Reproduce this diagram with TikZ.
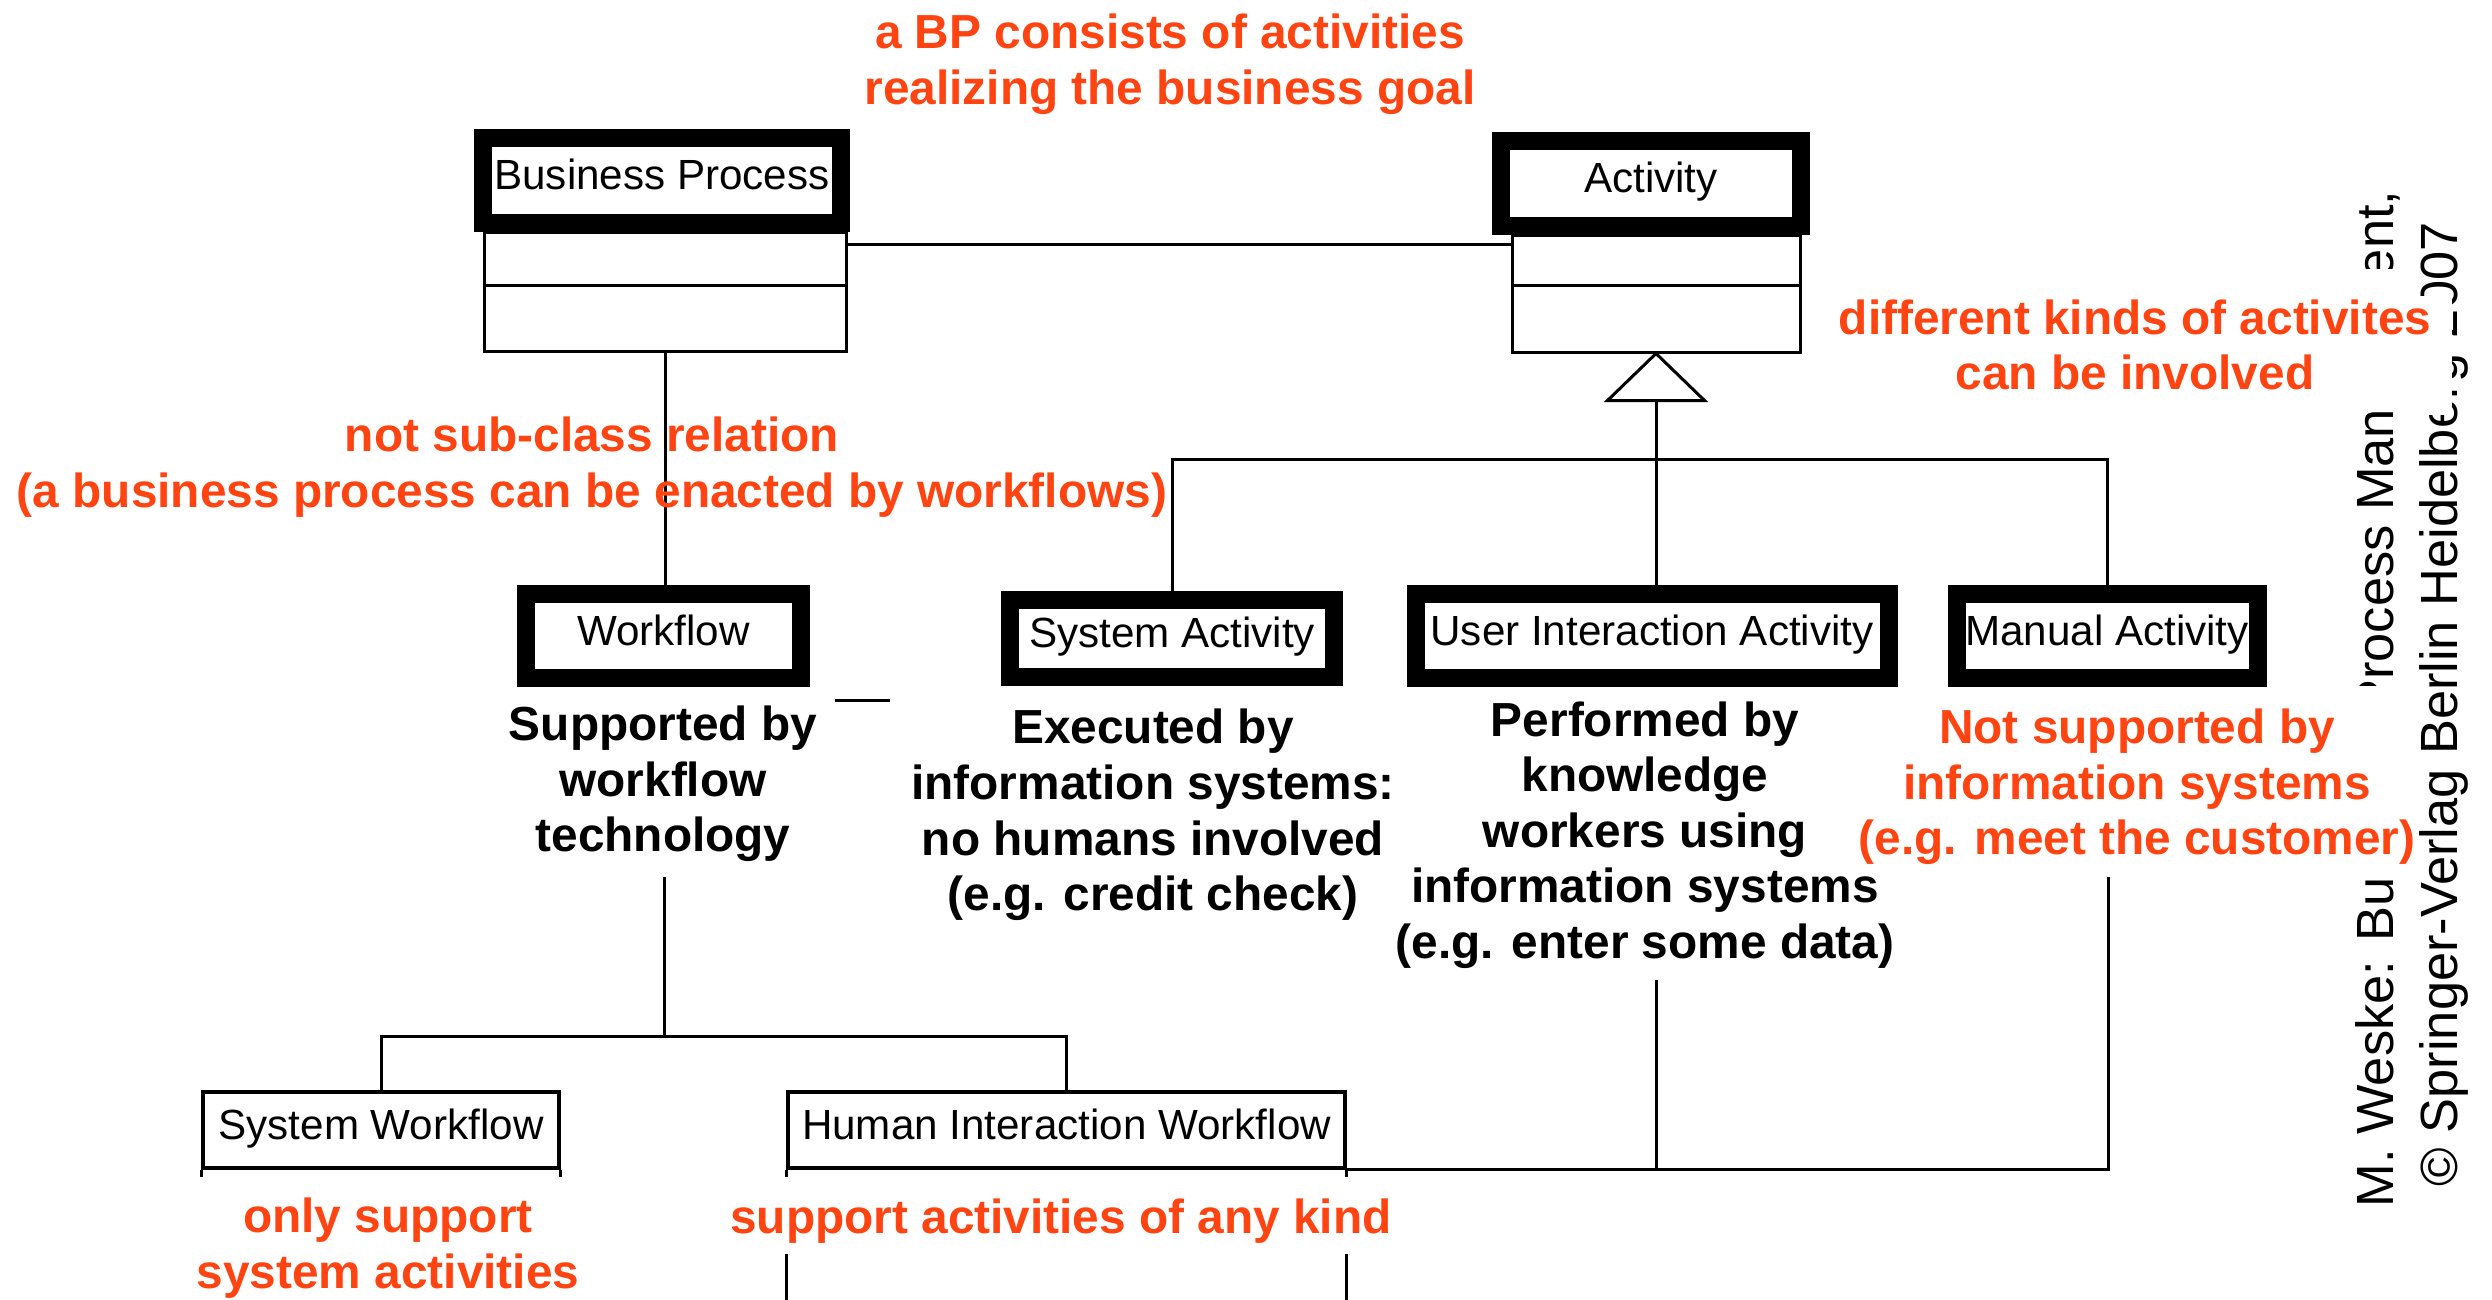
\documentclass[tikz,border=0pt]{standalone}
\usepackage{fontspec}
\setmainfont{Liberation Sans}
\usepackage{tikz}
\usetikzlibrary{positioning}
\definecolor{notered}{RGB}{255,68,18}

\begin{document}
\begin{tikzpicture}[
  head/.style={draw, line width=1.8mm, fill=white, inner sep=0pt, font=\fontsize{12}{14}\selectfont, text height=1.4ex, text depth=0.4ex},
  comp/.style={draw, line width=0.3mm, inner sep=0pt},
  cls/.style={draw, line width=0.35mm, inner sep=0pt, font=\fontsize{12}{14}\selectfont, text height=1.4ex, text depth=0.4ex},
  note/.style={align=center, font=\fontsize{13.6}{15.8}\selectfont\bfseries},
  rednote/.style={note, text=notered},
  link/.style={line width=0.3mm},
  credit/.style={rotate=90, anchor=base west, inner sep=0pt, font=\fontsize{14.9}{16}\selectfont}
]
\useasboundingbox (0,0) rectangle (24.92,-12.99);

\node[credit] (cr1) at (23.93,-12.08) {M. Weske: Business Process Management,};
\node[credit] (cr2) at (24.57,-11.87) {© Springer-Verlag Berlin Heidelberg 2007};
\fill[white] (23.40,-6.86) rectangle (24.08,-8.78);
\fill[white] (23.40,-2.685) rectangle (24.08,-4.09);
\fill[white] (24.12,-2.96) rectangle (24.52,-4.15);

\node[head, minimum width=3.575cm, minimum height=0.85cm] (bp) at (6.62,-1.805) {Business Process};
\node[comp, minimum width=3.62cm, minimum height=0.53cm] (bpa) at (6.65,-2.585) {};
\node[comp, minimum width=3.62cm, minimum height=0.66cm] (bpo) at (6.65,-3.18) {};
\node[head, minimum width=3.005cm, minimum height=0.85cm] (act) at (16.51,-1.835) {Activity};
\node[comp, minimum width=2.88cm, minimum height=0.50cm] (acta) at (16.56,-2.60) {};
\node[comp, minimum width=2.88cm, minimum height=0.67cm] (acto) at (16.56,-3.185) {};

\node[head, minimum width=2.75cm, minimum height=0.84cm] (wf) at (6.635,-6.36) {Workflow};
\node[head, minimum width=3.24cm, minimum height=0.77cm] (sa) at (11.72,-6.38) {System Activity};
\node[head, minimum width=4.73cm, minimum height=0.845cm] (uia) at (16.52,-6.36) {User Interaction Activity};
\node[head, minimum width=3.01cm, minimum height=0.845cm] (man) at (21.07,-6.36) {Manual Activity};

\node[cls, minimum width=3.56cm, minimum height=0.76cm] (sw) at (3.81,-11.30) {System Workflow};
\node[cls, minimum width=5.57cm, minimum height=0.76cm] (hiw) at (10.665,-11.30) {Human Interaction Workflow};

\draw[link] ([yshift=-1.4mm]bpa.north east) -- ([yshift=-1.1mm]acta.north west);
\draw[link] (bpo.south) -- (bpo.south |- wf.north);

\draw[link, fill=white] (acto.south) -- ++(-0.485,-0.47) -- ++(0.97,0) -- cycle;
\coordinate (gen) at (16.56,-4.59);
\draw[link] ([yshift=-4.7mm]acto.south) -- (gen);
\draw[link] (sa.north) |- (gen) -| (man.north);
\draw[link] (gen) -- (gen |- uia.north);

\coordinate (wfout) at (6.64,-8.77);
\coordinate (wfsplit) at (6.64,-10.36);
\draw[link] (wfout) -- (wfsplit);
\draw[link] (sw.north) |- (wfsplit) -| (hiw.north);
\draw[link] (sw.south west) -- ++(0,-0.07);
\draw[link] (sw.south east) -- ++(0,-0.07);
\draw[link] (hiw.south west) -- ++(0,-0.07);
\draw[link] (hiw.south east) -- ++(0,-0.07);
\draw[link] ([yshift=-8.4mm]hiw.south west) -- ++(0,-0.47);
\draw[link] ([yshift=-8.4mm]hiw.south east) -- ++(0,-0.47);

\coordinate (uiout) at (16.56,-9.80);
\coordinate (manout) at (21.08,-8.77);
\draw[link] (manout) |- (hiw.south east);
\draw[link] (uiout) -- (uiout |- hiw.south east);
\draw[link] (8.35,-7.00) -- (8.90,-7.00);

\node[rednote] (goal) at (11.70,-0.64) {a BP consists of activities\\realizing the business goal};
\node[rednote] (kinds) at (21.35,-3.45) {different kinds of activites\\can be involved};
\node[rednote] (nosub) at (5.92,-4.67) {not sub-class relation\\(a business process can be enacted by workflows)};
\node[note] (wfnote) at (6.63,-7.84) {Supported by\\workflow\\technology};
\node[note] (sanote) at (11.53,-8.15) {Executed by\\information systems:\\no humans involved\\(e.g. credit check)};
\node[note] (uianote) at (16.45,-8.35) {Performed by\\knowledge\\workers using\\information systems\\(e.g. enter some data)};
\node[rednote] (mannote) at (21.37,-7.87) {Not supported by\\information systems\\(e.g. meet the customer)};
\node[rednote] (swnote) at (3.88,-12.48) {only support\\system activities};
\node[rednote] (hiwnote) at (10.61,-12.21) {support activities of any kind};
\end{tikzpicture}
\end{document}
